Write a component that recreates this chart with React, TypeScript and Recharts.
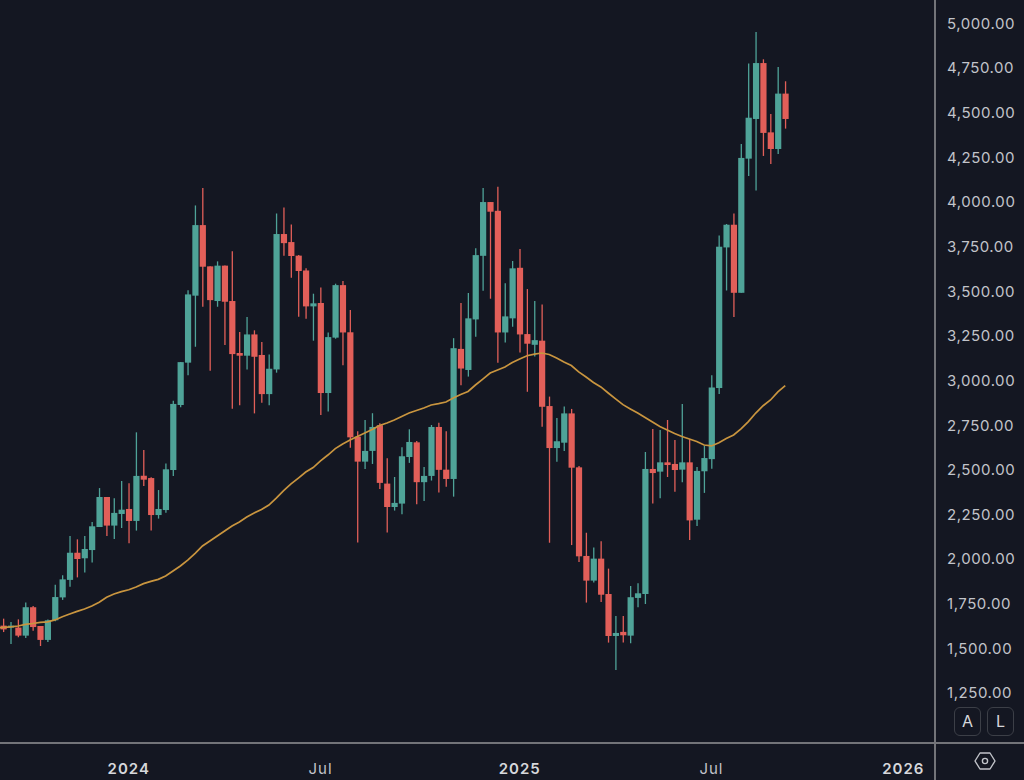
import React from 'react';
import { ComposedChart, Bar, Line, XAxis, YAxis } from 'recharts';

const opens = [
  1627, 1616, 1616, 1571, 1730, 1625, 1547, 1657, 1785, 1883, 2035, 2004, 2050, 2179, 2347, 2187, 2252, 2280,
  2213, 2466, 2453, 2246, 2274, 2498, 2862, 3099, 3474, 3869, 3638, 3444, 3642, 3444, 3153, 3138, 3257, 3142,
  2923, 3061, 3819, 3774, 3698, 3615, 3414, 3433, 2929, 3239, 3533, 3269, 2685, 2545, 2605, 2749, 2422, 2291,
  2310, 2571, 2653, 2430, 2465, 2739, 2500, 2448, 3176, 3058, 3341, 3697, 3998, 3949, 3268, 3347, 3630, 3259,
  3199, 3222, 2856, 2621, 2651, 2815, 2513, 2017, 1879, 2002, 1804, 1569, 1592, 1571, 1782, 1804, 2504, 2489,
  2541, 2532, 2500, 2541, 2220, 2491, 2559, 2957, 3744, 3871, 3490, 4241, 4463, 4776, 4388, 4295, 4605,
];
const closes = [
  1606, 1627, 1571, 1730, 1619, 1547, 1657, 1787, 1886, 2035, 2000, 2056, 2183, 2347, 2187, 2258, 2276, 2213,
  2465, 2444, 2246, 2280, 2502, 2868, 3102, 3481, 3869, 3636, 3449, 3642, 3440, 3147, 3138, 3257, 3132, 2923,
  3065, 3819, 3768, 3696, 3612, 3414, 3431, 2929, 3242, 3533, 3268, 2681, 2545, 2605, 2739, 2426, 2291, 2314,
  2575, 2655, 2430, 2465, 2739, 2499, 2448, 3180, 3066, 3347, 3701, 3998, 3944, 3268, 3358, 3627, 3257, 3205,
  3225, 2852, 2621, 2659, 2815, 2511, 2015, 1879, 2002, 1800, 1569, 1586, 1573, 1786, 1808, 2504, 2481, 2541,
  2526, 2498, 2541, 2216, 2493, 2565, 2960, 3748, 3871, 3490, 4245, 4470, 4776, 4385, 4295, 4605, 4463,
];
const highs = [
  1666, 1647, 1662, 1756, 1737, 1625, 1662, 1856, 1909, 2129, 2110, 2129, 2207, 2397, 2347, 2340, 2437, 2424,
  2709, 2610, 2457, 2386, 2535, 2886, 3102, 3505, 3979, 4076, 3638, 3666, 3643, 3722, 3270, 3354, 3280, 3214,
  3145, 3934, 3968, 3873, 3701, 3628, 3485, 3520, 3268, 3541, 3556, 3394, 2715, 2778, 2816, 2760, 2564, 2459,
  2625, 2726, 2661, 2515, 2750, 2762, 2715, 3236, 3433, 3489, 3739, 4076, 3998, 4084, 3543, 3668, 3735, 3511,
  3444, 3425, 2909, 2789, 2853, 2840, 2521, 2147, 2065, 2099, 1946, 1681, 1681, 1849, 1864, 2599, 2728, 2722,
  2778, 2666, 2868, 2672, 2515, 2634, 3029, 3811, 3875, 3934, 4323, 4774, 4950, 4797, 4491, 4754, 4674,
];
const lows = [
  1591, 1524, 1562, 1558, 1599, 1513, 1535, 1651, 1771, 1845, 1897, 1924, 1980, 2179, 2129, 2112, 2174, 2088,
  2159, 2409, 2159, 2226, 2259, 2465, 2849, 3028, 3188, 3412, 3054, 3412, 3198, 2841, 2860, 3061, 2815, 2875,
  2860, 3043, 3698, 3574, 3356, 3345, 3222, 2806, 2826, 3233, 3084, 2622, 2092, 2504, 2532, 2392, 2148, 2271,
  2250, 2538, 2306, 2325, 2439, 2372, 2405, 2349, 2973, 3021, 3244, 3502, 3457, 3099, 3212, 3300, 3156, 2936,
  3134, 2740, 2091, 2545, 2605, 2078, 1983, 1756, 1868, 1759, 1532, 1379, 1532, 1528, 1730, 1748, 2310, 2340,
  2459, 2377, 2429, 2106, 2185, 2370, 2505, 2923, 3503, 3354, 3490, 4144, 4062, 4256, 4211, 4267, 4409,
];
const movingAverage = [
  1617, 1620, 1625, 1634, 1639, 1645, 1648, 1659, 1677, 1692, 1707, 1720, 1737, 1758, 1786, 1804, 1817, 1828,
  1843, 1862, 1875, 1886, 1905, 1933, 1961, 1994, 2032, 2073, 2101, 2129, 2157, 2185, 2207, 2235, 2258, 2277,
  2302, 2341, 2383, 2420, 2453, 2487, 2512, 2549, 2582, 2618, 2644, 2666, 2686, 2705, 2725, 2747, 2761, 2778,
  2798, 2817, 2831, 2845, 2862, 2870, 2879, 2901, 2921, 2938, 2974, 3007, 3041, 3058, 3075, 3100, 3119, 3138,
  3147, 3153, 3145, 3125, 3103, 3083, 3047, 3019, 2988, 2963, 2929, 2896, 2864, 2840, 2817, 2792, 2767, 2742,
  2722, 2702, 2686, 2672, 2658, 2638, 2633, 2651, 2675, 2694, 2728, 2769, 2817, 2858, 2890, 2935, 2970,
];
// the average runs on a little past the left edge of the window
const maBeforeWindow = 1615;

const priceTicks = [1250, 1500, 1750, 2000, 2250, 2500, 2750, 3000, 3250, 3500, 3750, 4000, 4250, 4500, 4750, 5000];
const dateTickWeeks = [17, 43, 70, 96, 122];
const dateTickLabels = ['2024', 'Jul', '2025', 'Jul', '2026'];

const UP = '#4fa398';
const DOWN = '#e25f59';
const BG = '#141722';
const AXIS = '#737479';
const TEXT = '#c2c4ca';
const FONT = 'Inter, "Noto Sans", sans-serif';

const data: any[] = [
  { week: -1, ma: maBeforeWindow },
  ...opens.map((open, i) => ({
    week: i,
    open,
    close: closes[i],
    high: highs[i],
    low: lows[i],
    highLow: [lows[i], highs[i]],
    ma: movingAverage[i],
  })),
];

const Candle = (props: any) => {
  const { x, y, width, height, payload } = props;
  if (!payload || payload.high === undefined) return null;
  const { open, close, high, low } = payload;
  const color = close >= open ? UP : DOWN;
  const cx = x + width / 2;
  const pxPerUnit = height / (high - low);
  const bodyTop = y + (high - Math.max(open, close)) * pxPerUnit;
  const bodyH = Math.max(Math.abs(open - close) * pxPerUnit, 1);
  return (
    <g>
      <line x1={cx} x2={cx} y1={y} y2={y + height} stroke={color} strokeWidth={1.3} />
      <rect x={cx - 3.1} y={bodyTop} width={6.2} height={bodyH} fill={color} />
    </g>
  );
};

const DateTick = (props: any) => {
  const { x, y, payload } = props;
  const label = dateTickLabels[dateTickWeeks.indexOf(payload.value)];
  const isYear = label !== 'Jul';
  return (
    <text
      x={x}
      y={y + 23}
      textAnchor="middle"
      fill={isYear ? '#d6d7db' : TEXT}
      fontFamily={FONT}
      fontSize={15}
      fontWeight={isYear ? 600 : 400}
      letterSpacing={1}
    >
      {label}
    </text>
  );
};

const PriceTick = (props: any) => {
  const { y, payload } = props;
  const label = payload.value.toLocaleString('en-US', { minimumFractionDigits: 2 });
  return (
    <text x={947} y={y + 5.5} fill={TEXT} fontFamily={FONT} fontSize={15} letterSpacing={0.55}>
      {label}
    </text>
  );
};

const boxStyle: React.CSSProperties = {
  position: 'absolute',
  top: 707,
  width: 27,
  height: 29,
  boxSizing: 'border-box',
  border: '1.5px solid #3c3f47',
  borderRadius: 6,
  background: BG,
  color: '#d6d7db',
  fontFamily: FONT,
  fontSize: 16,
  lineHeight: '26px',
  textAlign: 'center',
};

export default function App() {
  return (
    <div style={{ position: 'absolute', left: 0, top: 0, width: 1024, height: 780, background: BG, overflow: 'hidden' }}>
      <ComposedChart
        width={1024}
        height={780}
        data={data}
        margin={{ top: 0, right: 0, bottom: 0, left: 0 }}
        style={{ background: BG }}
      >
        <XAxis
          dataKey="week"
          type="number"
          domain={[-0.45, 126.3]}
          allowDataOverflow
          ticks={dateTickWeeks}
          interval={0}
          height={37}
          axisLine={false}
          tickLine={false}
          tick={<DateTick />}
        />
        <YAxis
          orientation="right"
          width={89}
          domain={[970, 5129]}
          allowDataOverflow
          ticks={priceTicks}
          interval={0}
          axisLine={false}
          tickLine={false}
          tick={<PriceTick />}
        />
        <Bar dataKey="highLow" barSize={6} shape={<Candle />} isAnimationActive={false} />
        <Line dataKey="ma" stroke="#c9953f" strokeWidth={1.7} dot={false} activeDot={false} isAnimationActive={false} />
      </ComposedChart>
      {/* the pane separators run through to the window edges */}
      <div style={{ position: 'absolute', left: 934, top: 0, width: 1.6, height: 780, background: AXIS }} />
      <div style={{ position: 'absolute', left: 0, top: 742.4, width: 1024, height: 1.6, background: AXIS }} />
      <div style={{ ...boxStyle, left: 954 }}>A</div>
      <div style={{ ...boxStyle, left: 987 }}>L</div>
      <svg style={{ position: 'absolute', left: 972, top: 750 }} width={26} height={22} viewBox="0 0 26 22">
        <path d="M3 11 L8 3 H18 L23 11 L18 19 H8 Z" fill="none" stroke="#c2c4ca" strokeWidth={1.4} strokeLinejoin="round" />
        <circle cx={13} cy={11} r={2.6} fill="none" stroke="#c2c4ca" strokeWidth={1.4} />
      </svg>
    </div>
  );
}
